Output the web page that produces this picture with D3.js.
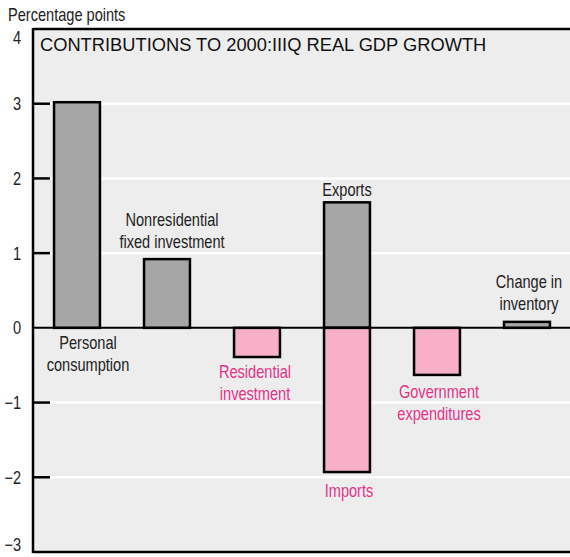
<!DOCTYPE html>
<html><head><meta charset="utf-8">
<script src="https://cdn.jsdelivr.net/npm/d3@7"></script>
<style>body{margin:0;background:#fff}svg{display:block}</style>
</head><body><svg id="c" width="570" height="557"></svg>
<script>
const categories = ["Personal consumption","Nonresidential fixed investment","Residential investment","Trade","Government expenditures","Change in inventory"];
const exportsValues = [3.02, 0.92, -0.39, 1.68, -0.63, 0.08];
const importsValues = [0, 0, 0, -1.93, 0, 0];
const labelLines = [["Personal","consumption"],["Nonresidential","fixed investment"],["Residential","investment"],["Exports"],["Government","expenditures"],["Change in","inventory"]];
const yTicks = [-3,-2,-1,0,1,2,3,4];
const title = "CONTRIBUTIONS TO 2000:IIIQ REAL GDP GROWTH";
const yLabel = "Percentage points";

const svg = d3.select("#c");
const L = 33, T = 29, B = 552;
const y = d3.scaleLinear().domain([-3,4]).range([B,T]);
const x = d3.scaleBand().domain(categories).range([32,572]).paddingInner(0.49).paddingOuter(0.245);
const font = "'Liberation Sans',Arial,sans-serif";
const SX = 0.81, FS = 18;
const grayFill = "#a6a6a6", pinkFill = "#f7b0c8", pinkText = "#e4338a";

function ntext(cx, cy, s, anchor, col){
  return svg.append("text").attr("transform",`translate(${cx},${cy}) scale(${SX},1)`)
    .attr("text-anchor",anchor).attr("font-family",font).attr("font-size",FS).attr("fill",col).text(s);
}

svg.append("rect").attr("x",L).attr("y",T).attr("width",570-L).attr("height",B-T).attr("fill","#ededed");

const inner = yTicks.filter(d=>d!==0 && d!==4 && d!==-3);
svg.selectAll(".grid").data(inner).join("line")
  .attr("x1",L).attr("x2",570).attr("y1",d=>y(d)).attr("y2",d=>y(d))
  .attr("stroke","#fff").attr("stroke-width",2.5);
svg.selectAll(".tick").data(inner).join("line")
  .attr("x1",L).attr("x2",50).attr("y1",d=>y(d)).attr("y2",d=>y(d))
  .attr("stroke","#000").attr("stroke-width",2.5);

function bars(vals){
  svg.append("g").selectAll("rect").data(vals.map((v,i)=>({v,c:categories[i]})).filter(d=>d.v!==0)).join("rect")
    .attr("x",d=>x(d.c)).attr("width",x.bandwidth())
    .attr("y",d=>y(Math.max(0,d.v))).attr("height",d=>Math.abs(y(d.v)-y(0)))
    .attr("fill",d=>d.v>0?grayFill:pinkFill).attr("stroke","#000").attr("stroke-width",2.5);
}
bars(exportsValues);
bars(importsValues);

svg.append("line").attr("x1",L).attr("x2",570).attr("y1",y(0)).attr("y2",y(0)).attr("stroke","#000").attr("stroke-width",2);
svg.append("line").attr("x1",L).attr("x2",570).attr("y1",T).attr("y2",T).attr("stroke","#000").attr("stroke-width",2.5);
svg.append("line").attr("x1",L).attr("x2",570).attr("y1",B).attr("y2",B).attr("stroke","#000").attr("stroke-width",2.5);
svg.append("line").attr("x1",L).attr("x2",L).attr("y1",T-1).attr("y2",B+1).attr("stroke","#000").attr("stroke-width",2.5);

yTicks.forEach(d=>{
  let yy = y(d)+6.5;
  if (d===4) yy = y(d)+15;
  if (d===-3) yy = y(d)-1;
  ntext(21, yy, d<0?"\u2212"+Math.abs(d):String(d), "end", "#222");
});
ntext(8, 21, yLabel, "start", "#222");
svg.append("text").attr("x",40).attr("y",51).attr("font-family",font).attr("font-size",18.3).attr("fill","#111").text(title);

const labelData = [
  {i:0, dx:11, y0:y(0)+21, col:"#222"},
  {i:1, dx:5, y0:y(exportsValues[1])-33, col:"#222"},
  {i:2, dx:-2, y0:y(exportsValues[2])+21, col:pinkText},
  {i:3, dx:0, y0:y(exportsValues[3])-6, col:"#222"},
  {i:4, dx:2, y0:y(exportsValues[4])+23, col:pinkText},
  {i:5, dx:2, y0:y(exportsValues[5])-34, col:"#222"}
];
labelData.forEach(d=>{
  labelLines[d.i].forEach((s,k)=>{
    ntext(x(categories[d.i])+x.bandwidth()/2+d.dx, d.y0+k*22, s, "middle", d.col);
  });
});
ntext(x(categories[3])+x.bandwidth()/2+2, y(importsValues[3])+25, "Imports", "middle", pinkText);
</script></body></html>
